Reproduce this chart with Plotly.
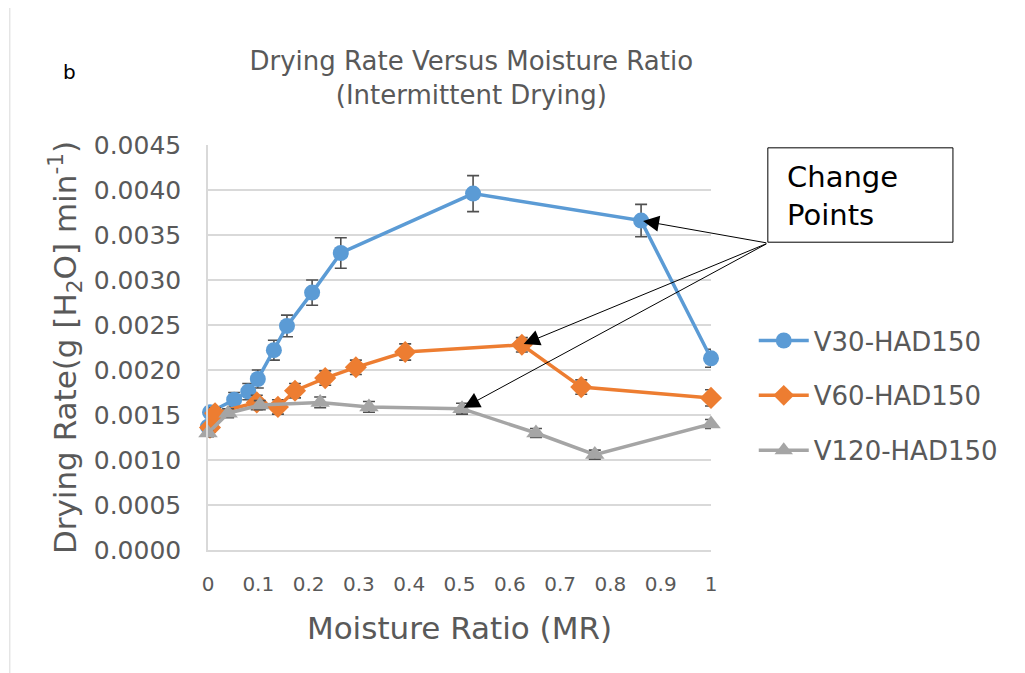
import plotly.graph_objects as go

# moisture ratio (x) and drying rate (y)
v30_mr = [0.0, 0.004, 0.052, 0.080, 0.099, 0.131, 0.157, 0.207, 0.264, 0.527, 0.861, 1.0]
v30_rate = [0.00137, 0.00153, 0.00167, 0.00176, 0.00190, 0.00222, 0.00249, 0.00286,
            0.00330, 0.00396, 0.00366, 0.00213]
v30_err = [0.00005, 0.00006, 0.00008, 0.00009, 0.00010, 0.00011, 0.00012, 0.00014,
           0.00017, 0.00020, 0.00018, 0.00010]

v60_mr = [0.004, 0.014, 0.097, 0.139, 0.173, 0.233, 0.294, 0.392, 0.624, 0.742, 1.0]
v60_rate = [0.00136, 0.00152, 0.00164, 0.00159, 0.00177, 0.00191, 0.00203, 0.00220,
            0.00228, 0.00181, 0.00169]
v60_err = [0.00005, 0.00006, 0.00008, 0.00008, 0.00008, 0.00008, 0.00008, 0.00009,
           0.00008, 0.00008, 0.00009]

v120_mr = [0.0, 0.040, 0.103, 0.223, 0.320, 0.505, 0.652, 0.769, 1.0]
v120_rate = [0.00130, 0.00152, 0.00161, 0.00164, 0.00159, 0.00157, 0.00130, 0.00106, 0.00140]
v120_err = [0.00004, 0.00005, 0.00005, 0.00006, 0.00006, 0.00006, 0.00005, 0.00005, 0.00005]

series_names = ["V30-HAD150", "V60-HAD150", "V120-HAD150"]
# index of the "change point" in each series
change_idx = [10, 8, 5]

x_ticks = [0, 0.1, 0.2, 0.3, 0.4, 0.5, 0.6, 0.7, 0.8, 0.9, 1]
x_ticktext = ["0", "0.1", "0.2", "0.3", "0.4", "0.5", "0.6", "0.7", "0.8", "0.9", "1"]

FONT = "DejaVu Sans"
TXT = "#595959"

series = [
    (v30_mr, v30_rate, v30_err, "#5B9BD5", "circle", 16),
    (v60_mr, v60_rate, v60_err, "#ED7D31", "diamond", 17),
    (v120_mr, v120_rate, v120_err, "#A5A5A5", "triangle-up", 17),
]

fig = go.Figure()
for i, (xs, ys, es, col, sym, sz) in enumerate(series):
    fig.add_trace(go.Scatter(
        x=xs, y=ys, name=series_names[i], mode="lines+markers",
        line=dict(color=col, width=3.5),
        marker=dict(color=col, symbol=sym, size=sz),
        error_y=dict(type="data", array=es, visible=True,
                     color="#505050", thickness=1.6, width=6),
        legendgroup=str(i), cliponaxis=False,
    ))

# arrows from the "Change Points" box to each change point
tail_x, tail_y = 1.113, 0.00341
for (xs, ys, _, _, _, _), k in zip(series, change_idx):
    fig.add_annotation(
        x=xs[k], y=ys[k], ax=tail_x, ay=tail_y, axref="x", ayref="y",
        xref="x", yref="y", showarrow=True, arrowhead=2, arrowsize=3.2,
        arrowwidth=1, arrowcolor="black", standoff=2, text="",
    )

fig.add_shape(type="rect", xref="paper", yref="paper",
              x0=1.113, x1=1.481, y0=0.760, y1=0.993,
              line=dict(color="black", width=1), fillcolor="white", layer="below")
fig.add_annotation(xref="paper", yref="paper", x=1.148, y=0.874, xanchor="left",
                   yanchor="middle", showarrow=False, align="left",
                   text="Change<br>Points", font=dict(family=FONT, size=29, color="black"))

fig.add_annotation(xref="paper", yref="paper", x=-0.275, y=1.18, xanchor="center",
                   yanchor="middle", showarrow=False, text="b",
                   font=dict(family=FONT, size=20, color="black"))

# faint frame edge on the left
fig.add_shape(type="line", xref="paper", yref="paper", x0=-0.394, x1=-0.394,
              y0=-0.31, y1=1.36, line=dict(color="#d9d9d9", width=1))

fig.update_layout(
    width=1025, height=673,
    paper_bgcolor="white", plot_bgcolor="white",
    margin=dict(l=200, r=322, t=137, b=131),
    title=dict(text="Drying Rate Versus Moisture Ratio<br>(Intermittent Drying)",
               x=0.452, xanchor="center", y=0.908, yanchor="middle",
               font=dict(family=FONT, size=26, color=TXT)),
    font=dict(family=FONT, color=TXT),
    legend=dict(x=1.085, xanchor="left", y=0.575, yanchor="top",
                font=dict(family=FONT, size=26, color=TXT),
                tracegroupgap=18, itemwidth=50, bgcolor="rgba(0,0,0,0)"),
    xaxis=dict(range=[0, 1], tickvals=x_ticks, ticktext=x_ticktext,
               showgrid=False, zeroline=False, showline=True,
               linecolor="#d9d9d9", linewidth=1.5, ticks="",
               ticklabelstandoff=15,
               tickfont=dict(family=FONT, size=20, color=TXT),
               title=dict(text="Moisture Ratio (MR)", standoff=23,
                          font=dict(family=FONT, size=31, color=TXT))),
    yaxis=dict(range=[0, 0.0045], dtick=0.0005, tickformat=".4f",
               showgrid=True, gridcolor="#d9d9d9", gridwidth=1.5,
               zeroline=False, showline=True, linecolor="#d9d9d9", linewidth=1.5,
               ticks="", ticklabelstandoff=20,
               tickfont=dict(family=FONT, size=25, color=TXT),
               title=dict(text="Drying Rate(g [H<sub>2</sub>O] min<sup>-1</sup>)",
                          standoff=8, font=dict(family=FONT, size=31, color=TXT))),
)

fig.write_html("out.html")
